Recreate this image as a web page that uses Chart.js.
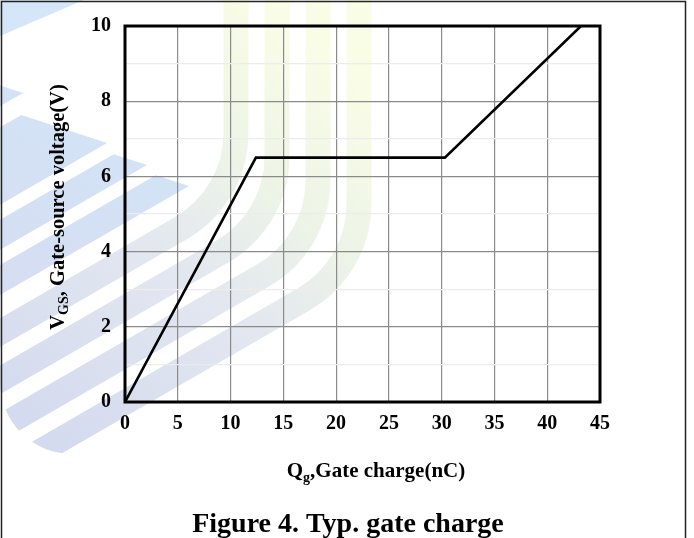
<!DOCTYPE html>
<html>
<head>
<meta charset="utf-8">
<script src="https://cdn.jsdelivr.net/npm/chart.js@4.4.1/dist/chart.umd.min.js"></script>
<style>
  html, body { margin: 0; padding: 0; background: #fff; }
  #wrap { width: 694px; height: 538px; }
</style>
</head>
<body>
<div id="wrap"><canvas id="gateChart"></canvas></div>
<script>
// gate charge curve: Qg (nC) vs VGS (V)
const chargeNC = [0, 12.4, 30.3, 43.2];
const gateVolts = [0, 6.5, 6.5, 10];

const xTicks = [0, 5, 10, 15, 20, 25, 30, 35, 40, 45];
const yTicks = [0, 2, 4, 6, 8, 10];

const serif = "'Liberation Serif', 'Times New Roman', serif";

// stripe direction (down-left, 30 deg) and its normal
const dx = -0.866, dy = 0.5;
const nx = 0.5, ny = 0.866;

// light swoosh stripes drawn behind the grid
function drawStripes(ctx) {
  ctx.save();

  // rounded lower-left corner of the stripe block
  ctx.beginPath();
  ctx.rect(0, 0, 700, 382);
  ctx.rect(72, 0, 700, 600);
  ctx.moveTo(144, 382);
  ctx.arc(72, 382, 72, 0, Math.PI * 2, false);
  ctx.clip();

  // J-shaped stripes: vertical at the top, bending towards the lower left
  const grad = ctx.createLinearGradient(340, 60, 40, 440);
  grad.addColorStop(0, "#fafde6");
  grad.addColorStop(0.3, "#edf4e7");
  grad.addColorStop(0.55, "#e2e7f0");
  grad.addColorStop(1, "#d4daef");
  ctx.strokeStyle = grad;
  ctx.lineWidth = 25;
  ctx.lineCap = "butt";
  for (let i = 0; i < 4; i++) {
    const x = 236 + 41 * i;
    const c = 288 + 41 * i;
    const yc = (c - nx * x) / ny;
    ctx.beginPath();
    ctx.moveTo(x, -5);
    ctx.arcTo(x, yc, x + dx * 200, yc + dy * 200, 110);
    ctx.lineTo(x + dx * 700, yc + dy * 700);
    ctx.stroke();
  }

  // arrow-tipped stripes on the upper left
  const blue = ctx.createLinearGradient(160, 90, 0, 300);
  blue.addColorStop(0, "#d2e5f8");
  blue.addColorStop(1, "#d6ddf1");
  ctx.fillStyle = blue;
  const chevrons = [[23, 93, 26], [107, 143, 67], [147, 165, 26], [189, 186, 26]];
  chevrons.forEach(([tx, ty, w]) => {
    const s = w / 0.743;
    const ux = tx - 0.95 * s, uy = ty - 0.31 * s;
    ctx.beginPath();
    ctx.moveTo(tx, ty);
    ctx.lineTo(tx + dx * 500, ty + dy * 500);
    ctx.lineTo(ux + dx * 500, uy + dy * 500);
    ctx.lineTo(ux, uy);
    ctx.closePath();
    ctx.fill();
  });
  ctx.fillStyle = "#d4e6f8";
  ctx.beginPath();
  ctx.moveTo(0, 0);
  ctx.lineTo(84, 0);
  ctx.lineTo(0, 36);
  ctx.closePath();
  ctx.fill();
  ctx.restore();
}

// text with one subscript part
function drawSubText(ctx, parts, x, y) {
  let total = 0;
  parts.forEach((p) => {
    ctx.font = p.font;
    total += ctx.measureText(p.text).width;
  });
  let pos = x - total / 2;
  ctx.textAlign = "left";
  ctx.textBaseline = "alphabetic";
  parts.forEach((p) => {
    ctx.font = p.font;
    ctx.fillText(p.text, pos, y + (p.shift || 0));
    pos += ctx.measureText(p.text).width;
  });
}

const decor = {
  id: "decor",
  beforeDraw(chart) {
    const ctx = chart.ctx;
    ctx.save();
    ctx.fillStyle = "#fff";
    ctx.fillRect(0, 0, chart.width, chart.height);
    ctx.restore();
    drawStripes(ctx);
  },
  afterDraw(chart) {
    const ctx = chart.ctx;
    const a = chart.chartArea;
    ctx.save();
    // plot frame
    ctx.strokeStyle = "#000";
    ctx.lineWidth = 3;
    ctx.strokeRect(a.left, a.top, a.right - a.left, a.bottom - a.top);
    // outer box
    ctx.lineWidth = 1.5;
    ctx.strokeStyle = "#222";
    ctx.strokeRect(1.5, 1.5, 684, 560);

    ctx.fillStyle = "#000";
    // y title, rotated
    ctx.save();
    ctx.translate(64, 207);
    ctx.rotate(-Math.PI / 2);
    drawSubText(ctx, [
      { text: "V", font: "bold 20.5px " + serif },
      { text: "GS", font: "bold 14px " + serif, shift: 4 },
      { text: ", Gate-source voltage(V)", font: "bold 20.5px " + serif }
    ], 0, 0);
    ctx.restore();

    // x title
    drawSubText(ctx, [
      { text: "Q", font: "bold 21px " + serif },
      { text: "g", font: "bold 14px " + serif, shift: 5 },
      { text: ",Gate charge(nC)", font: "bold 21px " + serif }
    ], 376, 477);

    // caption
    drawSubText(ctx, [
      { text: "Figure 4. Typ. gate charge", font: "bold 28px " + serif }
    ], 348, 532);
    ctx.restore();
  }
};

const points = chargeNC.map((q, i) => ({ x: q, y: gateVolts[i] }));

new Chart(document.getElementById("gateChart"), {
  type: "scatter",
  data: {
    datasets: [{
      data: points,
      showLine: true,
      borderColor: "#000",
      borderWidth: 2.6,
      pointRadius: 0,
      fill: false,
      tension: 0
    }]
  },
  options: {
    responsive: true,
    maintainAspectRatio: false,
    animation: false,
    devicePixelRatio: 1,
    layout: { padding: { left: 0, top: 24, right: 94, bottom: 0 } },
    plugins: {
      legend: { display: false },
      tooltip: { enabled: false }
    },
    scales: {
      x: {
        type: "linear",
        min: 0,
        max: 45,
        afterBuildTicks: (scale) => {
          scale.ticks = xTicks.map((v) => ({ value: v }));
        },
        afterFit: (scale) => { scale.height = 136; },
        grid: { color: "#8a8a8a", lineWidth: 1.2, drawTicks: false },
        border: { display: false },
        ticks: {
          color: "#000",
          padding: 10,
          maxRotation: 0,
          font: { family: serif, size: 20, weight: "bold" }
        }
      },
      y: {
        type: "linear",
        min: 0,
        max: 10,
        afterBuildTicks: (scale) => {
          const all = [];
          for (let v = 0; v <= 10; v++) all.push({ value: v });
          scale.ticks = all;
        },
        afterFit: (scale) => { scale.width = 125; },
        grid: {
          color: (c) => (c.tick && yTicks.includes(c.tick.value) ? "#8a8a8a" : "#ececec"),
          lineWidth: 1.2,
          drawTicks: false
        },
        border: { display: false },
        ticks: {
          color: "#000",
          padding: 14,
          autoSkip: false,
          font: { family: serif, size: 20, weight: "bold" },
          callback: (v) => (yTicks.includes(v) ? String(v) : "")
        }
      }
    }
  },
  plugins: [decor]
});
</script>
</body>
</html>
